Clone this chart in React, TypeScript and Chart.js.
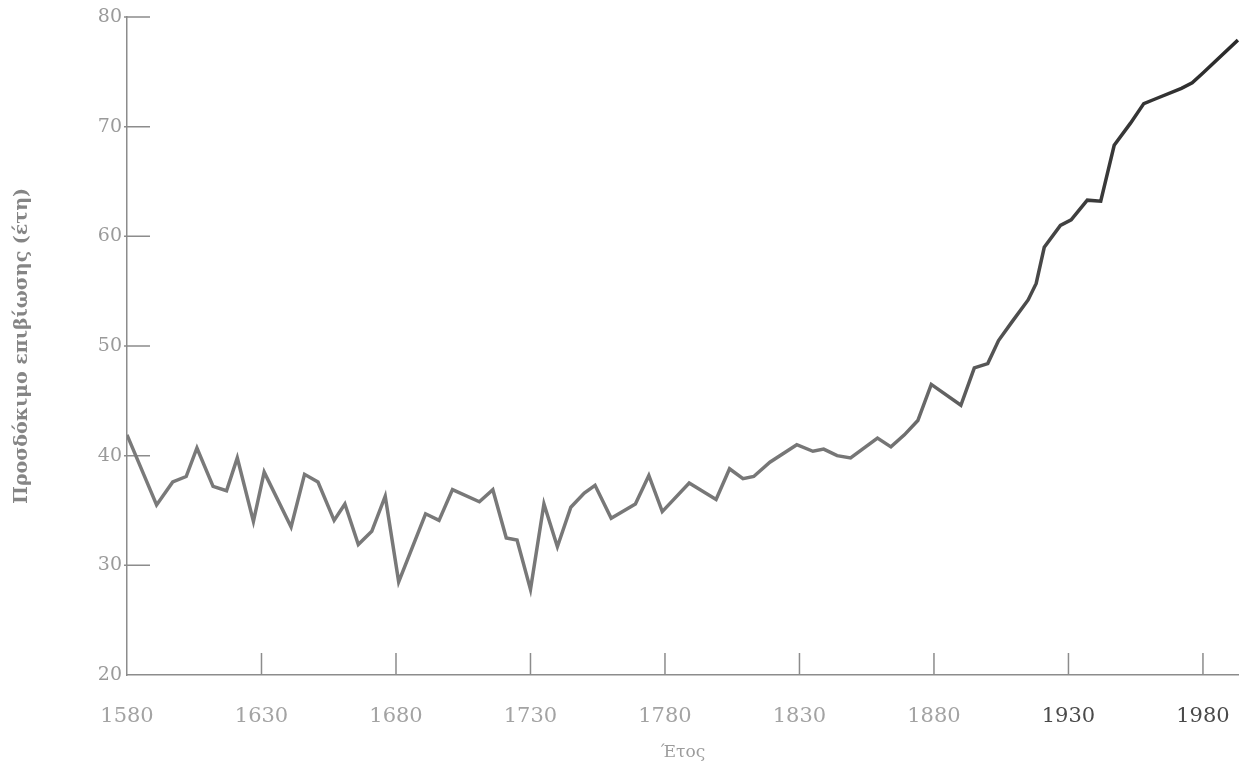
import React, { useEffect, useRef } from "react";
import { Chart, registerables } from "chart.js";

Chart.register(...registerables);

const years = [
  1580, 1591, 1597, 1602, 1606, 1612, 1617, 1621, 1627, 1631,
  1641, 1646, 1651, 1657, 1661, 1666, 1671, 1676, 1681, 1691,
  1696, 1701, 1711, 1716, 1721, 1725, 1730, 1735, 1740, 1745,
  1750, 1754, 1760, 1769, 1774, 1779, 1789, 1799, 1804, 1809,
  1813, 1819, 1829, 1835, 1839, 1844, 1849, 1859, 1864, 1869,
  1874, 1879, 1890, 1895, 1900, 1904, 1909, 1915, 1918, 1921,
  1927, 1931, 1937, 1942, 1947, 1953, 1958, 1962, 1972, 1976,
  1980, 1993,
];

const lifeExpectancy = [
  41.9, 35.5, 37.6, 38.1, 40.7, 37.2, 36.8, 39.8, 34.0, 38.5,
  33.5, 38.3, 37.6, 34.1, 35.6, 31.9, 33.1, 36.3, 28.5, 34.7,
  34.1, 36.9, 35.8, 36.9, 32.5, 32.3, 27.8, 35.6, 31.7, 35.3,
  36.6, 37.3, 34.3, 35.6, 38.2, 34.9, 37.5, 36.0, 38.8, 37.9,
  38.1, 39.4, 41.0, 40.4, 40.6, 40.0, 39.8, 41.6, 40.8, 41.9,
  43.2, 46.5, 44.6, 48.0, 48.4, 50.5, 52.2, 54.2, 55.7, 59.0,
  61.0, 61.5, 63.3, 63.2, 68.3, 70.3, 72.1, 72.5, 73.5, 74.0,
  74.9, 77.9,
];

const xTickValues = [1580, 1630, 1680, 1730, 1780, 1830, 1880, 1930, 1980];
const yTickValues = [20, 30, 40, 50, 60, 70, 80];
const xMin = 1580;
const xMax = 1993.4;
const yMin = 20;
const yMax = 80;

const yTitle = "Προσδόκιμο επιβίωσης (έτη)";
const xTitle = "Έτος";

const AXIS_COLOR = "#8c8c8c";

const innerTicks = {
  id: "innerTicks",
  beforeDatasetsDraw(chart: any) {
    const { ctx, chartArea, scales } = chart;
    ctx.save();
    ctx.strokeStyle = AXIS_COLOR;
    ctx.lineWidth = 1.5;
    ctx.beginPath();
    for (const v of xTickValues) {
      if (v === xMin) continue;
      const x = scales.x.getPixelForValue(v);
      ctx.moveTo(x, chartArea.bottom);
      ctx.lineTo(x, chartArea.bottom - 22);
    }
    for (const v of yTickValues) {
      if (v === yMin) continue;
      const y = scales.y.getPixelForValue(v);
      ctx.moveTo(chartArea.left - 3, y);
      ctx.lineTo(chartArea.left + 23, y);
    }
    ctx.stroke();
    ctx.restore();
  },
};

export default function App() {
  const canvasRef = useRef<HTMLCanvasElement | null>(null);

  useEffect(() => {
    const canvas = canvasRef.current;
    if (!canvas) return;
    const chart = new Chart(canvas, {
      type: "line",
      data: {
        datasets: [
          {
            data: years.map((y, i) => ({ x: y, y: lifeExpectancy[i] })),
            borderWidth: 3.5,
            pointRadius: 0,
            tension: 0,
            fill: false,
            borderJoinStyle: "miter",
            borderColor: (context: any) => {
              const ch = context.chart;
              const area = ch.chartArea;
              const sx = ch.scales?.x;
              if (!area || !sx) return "#777777";
              const g = ch.ctx.createLinearGradient(area.left, 0, area.right, 0);
              const w = area.right - area.left;
              const pos = (v: number) =>
                Math.min(1, Math.max(0, (sx.getPixelForValue(v) - area.left) / w));
              g.addColorStop(0, "#7a7a7a");
              g.addColorStop(pos(1860), "#767676");
              g.addColorStop(pos(1900), "#555555");
              g.addColorStop(pos(1940), "#3a3a3a");
              g.addColorStop(1, "#2a2a2a");
              return g;
            },
          },
        ],
      },
      options: {
        responsive: false,
        animation: false,
        events: [],
        layout: { padding: { top: 17, right: 0, left: 0, bottom: 0 } },
        plugins: {
          legend: { display: false },
          tooltip: { enabled: false },
        },
        scales: {
          x: {
            type: "linear",
            min: xMin,
            max: xMax,
            afterBuildTicks: (scale: any) => {
              scale.ticks = xTickValues.map((v) => ({ value: v }));
            },
            afterFit: (scale: any) => {
              scale.height = 91;
              scale.paddingLeft = 0;
              scale.paddingRight = 0;
            },
            grid: { display: false, drawTicks: false },
            border: { display: true, color: AXIS_COLOR, width: 1.5 },
            ticks: {
              autoSkip: false,
              maxRotation: 0,
              padding: 29,
              font: { family: "DejaVu Serif", size: 21 },
              color: (c: any) => (c.tick && c.tick.value >= 1930 ? "#4a4a4a" : "#a3a3a3"),
              callback: (v: any) => String(v),
            },
            title: {
              display: true,
              text: xTitle,
              color: "#9c9c9c",
              font: { family: "DejaVu Serif", size: 17 },
              padding: { top: 0, bottom: 3 },
            },
          },
          y: {
            type: "linear",
            min: yMin,
            max: yMax,
            afterBuildTicks: (scale: any) => {
              scale.ticks = yTickValues.map((v) => ({ value: v }));
            },
            afterFit: (scale: any) => {
              scale.width = 127;
              scale.paddingTop = 0;
              scale.paddingBottom = 0;
            },
            grid: { display: false, drawTicks: false },
            border: { display: true, color: AXIS_COLOR, width: 1.5 },
            ticks: {
              padding: 5,
              font: { family: "DejaVu Serif", size: 19 },
              color: "#9a9a9a",
            },
            title: {
              display: true,
              text: yTitle,
              color: "#858585",
              font: { family: "DejaVu Serif", size: 19, weight: "bold" },
              padding: { top: 11, bottom: 0 },
            },
          },
        },
      },
      plugins: [innerTicks],
    });
    return () => chart.destroy();
  }, []);

  return (
    <div style={{ position: "absolute", left: 0, top: 0, width: 1239, height: 766, background: "#ffffff" }}>
      <canvas ref={canvasRef} width={1239} height={766} style={{ display: "block" }} />
    </div>
  );
}
